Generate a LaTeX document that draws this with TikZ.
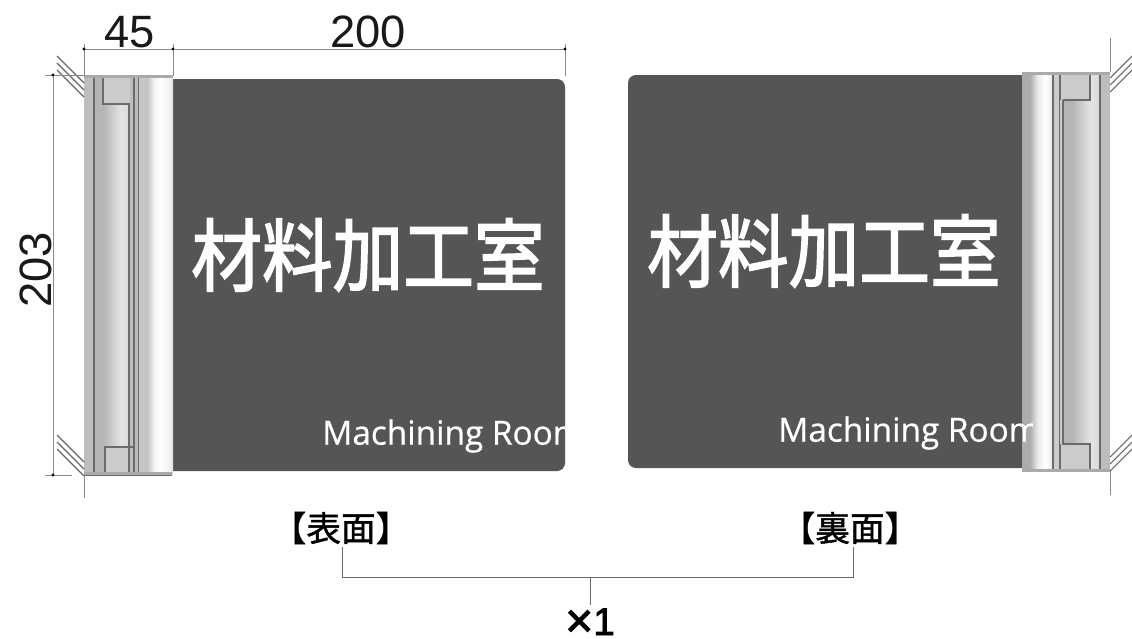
\documentclass[tikz,border=0pt]{standalone}
\usepackage{fontspec}
\setmainfont{Liberation Sans}
\newfontfamily\cjk[FakeBold=2.2]{Noto Sans CJK JP}
\newfontfamily\cjkside[FakeBold=1.2]{Noto Sans CJK JP}
\newfontfamily\latinlabel[FakeBold=0.6]{Open Sans}
\newfontfamily\qtyfont[FakeBold=2]{Liberation Sans}
\pgfdeclarehorizontalshading{cylL}{100bp}{color(0bp)=(gray!45!white);color(25bp)=(gray!45!white);color(35bp)=(white!92!gray);color(45bp)=(white);color(58bp)=(white!88!gray);color(75bp)=(gray!68!white)}
\pgfdeclarehorizontalshading{cylR}{100bp}{color(0bp)=(gray!65!white);color(25bp)=(gray!65!white);color(38bp)=(white!85!gray);color(50bp)=(white);color(60bp)=(white!85!gray);color(75bp)=(gray!50!white)}
\pgfdeclarehorizontalshading{backL}{100bp}{color(0bp)=(gray!58!white);color(25bp)=(gray!58!white);color(50bp)=(gray!22!white);color(75bp)=(gray!40!white)}
\definecolor{panel}{HTML}{555558}
\definecolor{railgray}{HTML}{BDBDBD}
\definecolor{boxgray}{HTML}{CBCBCB}
\definecolor{edgeline}{HTML}{6F6A6A}
\definecolor{dimline}{HTML}{8A8A8A}
\tikzset{
  x=0.75pt,y=-0.75pt,
  dimln/.style={draw=dimline,line width=0.5pt},
  hatchln/.style={draw=black!60,line width=0.8pt},
  railln/.style={draw=edgeline,line width=0.8pt},
  dimtxt/.style={font=\fontsize{34}{34}\selectfont,text=black!90,inner sep=0pt},
  titletxt/.style={font=\cjk\fontsize{53}{53}\selectfont,text=white,inner sep=0pt,yscale=1.12},
  entxt/.style={font=\latinlabel\fontsize{25}{25}\selectfont,text=white,inner sep=0pt,anchor=west},
  sidetxt/.style={font=\cjkside\fontsize{26}{27}\selectfont,text=black,inner sep=0pt},
  dot/.style={circle,fill=black,inner sep=0pt,minimum size=2.5pt},
}
\begin{document}
\begin{tikzpicture}
\useasboundingbox (0,0) rectangle (1132,639);
\fill[white] (0,0) rectangle (1132,639);

% ---------- left sign ----------
\fill[panel,rounded corners=6pt] (160,79) rectangle (565,471);
\begin{scope}
  \clip (173,79) rectangle (565,471);
  \node[titletxt] (t1) at (368,255) {材料加工室};
  \node[entxt] (e1) at (322,436) {Machining Room};
\end{scope}
% mount
\fill[railgray] (84,76) rectangle (94,474);
\shade[shading=backL] (94,78) rectangle (130,472);
\fill[boxgray] (103,78) rectangle (130,104);
\fill[boxgray] (105,447) rectangle (134,472);
\fill[railgray] (130,78) rectangle (139,472);
\shade[shading=cylL] (139,77) rectangle (173,472);
\path[railln] (94,77) -- (94,472);
\path[railln] (103,78) -- (103,104) -- (129,104) -- (129,472);
\path[railln] (105,472) -- (105,447) -- (134,447);
\path[railln] (134,78) -- (134,472);
\path[railln] (138.5,78) -- (138.5,472);
\fill[railgray!90!black] (84,75) rectangle (173,78);
\fill[railgray!90!black,rounded corners=1pt] (84,472) rectangle (173,475);
\draw[edgeline,line width=0.4pt] (84,475) -- (172,475);

% ---------- right sign ----------
\fill[panel,rounded corners=6pt] (628,75) rectangle (1035,468);
\node[titletxt] (t2) at (824,251) {材料加工室};
% mount
\shade[shading=cylR] (1022,74) rectangle (1053,470);
\fill[boxgray] (1053,74) rectangle (1063,470);
\shade[shading=backL] (1063,74) rectangle (1100,470);
\fill[boxgray] (1063,74) rectangle (1090,100);
\fill[boxgray] (1061,444) rectangle (1090,469);
\fill[railgray] (1100,74) rectangle (1110,470);
\path[railln] (1053,74) -- (1053,469);
\path[railln] (1060,444) -- (1060,469);
\path[railln] (1060,74) -- (1060,100);
\path[railln] (1063,100) -- (1063,444) -- (1090,444) -- (1090,469);
\path[railln] (1063,100) -- (1090,100) -- (1090,74);
\path[railln] (1059.5,100) -- (1059.5,469);
\path[railln] (1100,74) -- (1100,469);
\fill[railgray!90!black] (1022,71.5) rectangle (1110,74.5);
\fill[railgray!90!black] (1022,469) rectangle (1110,472);
\begin{scope}
  \clip (700,400) rectangle (1033,468);
  \node[entxt] (e2) at (778,433) {Machining Room};
\end{scope}

% ---------- wall hatching ----------
\foreach \d in {0,7,14}{
  \path[hatchln] (57,{56+\d}) -- (84,{83+\d});
  \path[hatchln] (57,{435+\d}) -- (84,{462+\d});
  \path[hatchln] (1110,{78+\d}) -- (1132,{56+\d});
  \path[hatchln] (1110,{457+\d}) -- (1132,{435+\d});
}

% ---------- dimensions ----------
\coordinate (a0) at (84,49);
\coordinate (a1) at (173,49);
\coordinate (a2) at (565,49);
\coordinate (b0) at (53,75);
\coordinate (b1) at (53,475);
\path[dimln] (a0) -- (a2);
\path[dimln] (b0) -- (b1);
\path[dimln] (84,44) -- (84,76);
\path[dimln] (173,44) -- (173,76);
\path[dimln] (565,44) -- (565,76);
\path[dimln] (45,75) -- (84,75);
\path[dimln] (45,475) -- (72,475);
\path[dimln] (84,474) -- (84,498);
\path[dimln] (1110,38) -- (1110,72);
\path[dimln] (1110,471) -- (1110,495);
\foreach \p in {a0,a1,a2,b0,b1}{\node[dot] at (\p) {};}
\node[dimtxt] (d45) at (130,32) {45};
\node[dimtxt] (d200) at (368,32) {200};
\node[dimtxt,rotate=90] (d203) at (36,270) {203};

% ---------- labels and bracket ----------
\node[sidetxt] (front) at (341,528) {【表面】};
\node[sidetxt] (back) at (850,528) {【裏面】};
\node[font=\qtyfont\fontsize{29}{29}\selectfont,inner sep=0pt,text=black,anchor=base] (qty) at (590,635) {\raisebox{-1.5pt}{\fontsize{36}{36}\selectfont ×}1};
\coordinate (join) at (590,577);
\draw[edgeline,line width=0.6pt] (342,547) -- (342,577) -- (853,577) -- (853,547);
\draw[edgeline,line width=0.6pt] (join) -- (590,605);
\end{tikzpicture}
\end{document}
